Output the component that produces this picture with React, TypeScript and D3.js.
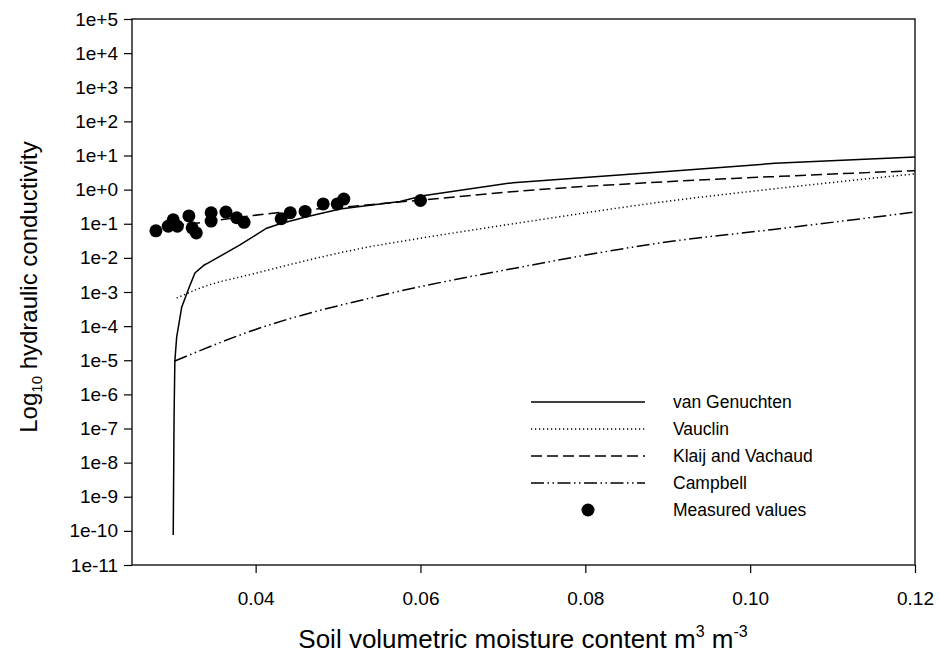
import { useEffect, useRef } from 'react';
import * as d3 from 'd3';

// soil moisture (m3/m3) vs hydraulic conductivity
const vanGenuchten: [number, number][] = [
  [0.0300, 7.6e-11], [0.03006, 6.0e-9], [0.0301, 1.8e-7], [0.0302, 9.5e-6],
  [0.03042, 4.8e-5], [0.03103, 3.6e-4], [0.03195, 1.4e-3], [0.03264, 3.6e-3],
  [0.03377, 6.2e-3], [0.03426, 7.1e-3], [0.0381, 0.024], [0.04134, 0.074],
  [0.04296, 0.10], [0.0462, 0.16], [0.05024, 0.27], [0.05752, 0.45],
  [0.0603, 0.66], [0.07123, 1.6], [0.0899, 3.4], [0.103, 5.9], [0.12, 9.1],
];

const vauclin: [number, number][] = [
  [0.03042, 6.6e-4], [0.03325, 1.3e-3], [0.0399, 3.5e-3], [0.0551, 0.024],
  [0.0575, 0.030], [0.0724, 0.11], [0.0898, 0.45], [0.1028, 1.05], [0.12, 2.9],
];

const klaijVachaud: [number, number][] = [
  [0.0300, 0.089], [0.0336, 0.11], [0.0367, 0.14], [0.0393, 0.17],
  [0.0442, 0.23], [0.0527, 0.34], [0.0603, 0.50], [0.0724, 0.92],
  [0.0898, 1.7], [0.1028, 2.4], [0.12, 3.6],
];

const campbell: [number, number][] = [
  [0.0302, 9.5e-6], [0.040, 8.0e-5], [0.0551, 7.8e-4], [0.0724, 5.5e-3],
  [0.0898, 0.029], [0.1028, 0.068], [0.12, 0.22],
];

const measured: [number, number][] = [
  [0.0279, 0.062], [0.0294, 0.085], [0.0300, 0.13], [0.0305, 0.085],
  [0.0319, 0.17], [0.0323, 0.076], [0.0328, 0.054], [0.0346, 0.21],
  [0.0346, 0.12], [0.0364, 0.22], [0.0377, 0.15], [0.0386, 0.11],
  [0.0431, 0.14], [0.0442, 0.21], [0.0460, 0.23], [0.0482, 0.38],
  [0.0499, 0.38], [0.0507, 0.53], [0.0600, 0.48],
];

const xTicks = [0.04, 0.06, 0.08, 0.10, 0.12];
const yTicks = d3.range(-11, 6).map(e => Math.pow(10, e));

const legendItems = [
  { label: 'van Genuchten', dash: null as string | null, dot: false },
  { label: 'Vauclin', dash: '1.2 2.8', dot: false },
  { label: 'Klaij and Vachaud', dash: '11 5', dot: false },
  { label: 'Campbell', dash: '13 3.5 1.5 3.5 1.5 3.5', dot: false },
  { label: 'Measured values', dash: null, dot: true },
];

const FONT = '"Liberation Sans", Arial, sans-serif';

export default function App() {
  const svgRef = useRef<SVGSVGElement>(null);

  useEffect(() => {
    if (!svgRef.current) return;
    const svg = d3.select(svgRef.current);
    svg.selectAll('*').remove();

    const width = 940;
    const height = 662;
    const margin = { top: 19, right: 25, bottom: 97, left: 132 };

    const x = d3.scaleLinear()
      .domain([0.025, 0.12])
      .range([margin.left, width - margin.right]);

    const y = d3.scaleLog()
      .domain([1e-11, 1e5])
      .range([height - margin.bottom, margin.top]);

    const g = svg.append('g');

    // frame
    g.append('rect')
      .attr('x', margin.left)
      .attr('y', margin.top)
      .attr('width', width - margin.left - margin.right)
      .attr('height', height - margin.top - margin.bottom)
      .attr('fill', 'none')
      .attr('stroke', '#000')
      .attr('stroke-width', 1.3);

    // y axis
    const yAxis = g.append('g')
      .attr('transform', `translate(${margin.left},0)`)
      .call(d3.axisLeft(y)
        .tickValues(yTicks)
        .tickSize(8)
        .tickPadding(6)
        .tickFormat(d => {
          const e = Math.round(Math.log10(d as number));
          return `1e${e >= 0 ? '+' : ''}${e}`;
        }));
    yAxis.select('.domain').remove();
    yAxis.selectAll('line').attr('stroke-width', 1.2);
    yAxis.selectAll('text')
      .attr('font-family', FONT)
      .attr('font-size', 19)
      .attr('fill', '#000');

    // x axis
    const xAxis = g.append('g')
      .attr('transform', `translate(0,${height - margin.bottom})`)
      .call(d3.axisBottom(x)
        .tickValues(xTicks)
        .tickSize(8)
        .tickPadding(19)
        .tickFormat(d3.format('.2f')));
    xAxis.select('.domain').remove();
    xAxis.selectAll('line').attr('stroke-width', 1.2);
    xAxis.selectAll('text')
      .attr('font-family', FONT)
      .attr('font-size', 19)
      .attr('fill', '#000');

    const smooth = d3.line<[number, number]>()
      .x(d => x(d[0]))
      .y(d => y(d[1]))
      .curve(d3.curveMonotoneX);
    const straight = d3.line<[number, number]>()
      .x(d => x(d[0]))
      .y(d => y(d[1]));

    const series = [
      { data: vanGenuchten, dash: null as string | null, gen: straight },
      { data: vauclin, dash: legendItems[1].dash, gen: smooth },
      { data: klaijVachaud, dash: legendItems[2].dash, gen: smooth },
      { data: campbell, dash: legendItems[3].dash, gen: smooth },
    ];

    const plot = g.append('g');
    series.forEach(s => {
      plot.append('path')
        .datum(s.data)
        .attr('d', s.gen)
        .attr('fill', 'none')
        .attr('stroke', '#000')
        .attr('stroke-width', 1.5)
        .attr('stroke-dasharray', s.dash ?? null);
    });

    plot.selectAll('circle.meas')
      .data(measured)
      .join('circle')
      .attr('class', 'meas')
      .attr('cx', d => x(d[0]))
      .attr('cy', d => y(d[1]))
      .attr('r', 6.5)
      .attr('fill', '#000');

    // legend
    const legend = g.append('g').attr('transform', 'translate(531,402)');
    legendItems.forEach((item, i) => {
      const row = legend.append('g').attr('transform', `translate(0,${i * 27})`);
      if (item.dot) {
        row.append('circle').attr('cx', 57).attr('cy', 0).attr('r', 6.5).attr('fill', '#000');
      } else {
        row.append('line')
          .attr('x1', 0).attr('x2', 114)
          .attr('y1', 0).attr('y2', 0)
          .attr('stroke', '#000')
          .attr('stroke-width', 1.5)
          .attr('stroke-dasharray', item.dash ?? null);
      }
      row.append('text')
        .attr('x', 142)
        .attr('y', 6)
        .attr('font-family', FONT)
        .attr('font-size', 17.5)
        .text(item.label);
    });

    // axis titles
    const yTitle = g.append('text')
      .attr('transform', 'translate(37,287) rotate(-90)')
      .attr('text-anchor', 'middle')
      .attr('font-family', FONT)
      .attr('font-size', 24);
    yTitle.append('tspan').text('Log');
    yTitle.append('tspan').attr('font-size', 15).attr('dy', 5).text('10');
    yTitle.append('tspan').attr('dy', -5).text(' hydraulic conductivity');

    const xTitle = g.append('text')
      .attr('x', 523)
      .attr('y', 648)
      .attr('text-anchor', 'middle')
      .attr('font-family', FONT)
      .attr('font-size', 26);
    xTitle.append('tspan').text('Soil volumetric moisture content m');
    xTitle.append('tspan').attr('font-size', 16).attr('dy', -11).text('3');
    xTitle.append('tspan').attr('dy', 11).text(' m');
    xTitle.append('tspan').attr('font-size', 16).attr('dy', -11).text('-3');
  }, []);

  return (
    <div style={{ position: 'absolute', left: 0, top: 0 }}>
      <svg ref={svgRef} width={940} height={662} style={{ display: 'block', background: '#fff' }} />
    </div>
  );
}
